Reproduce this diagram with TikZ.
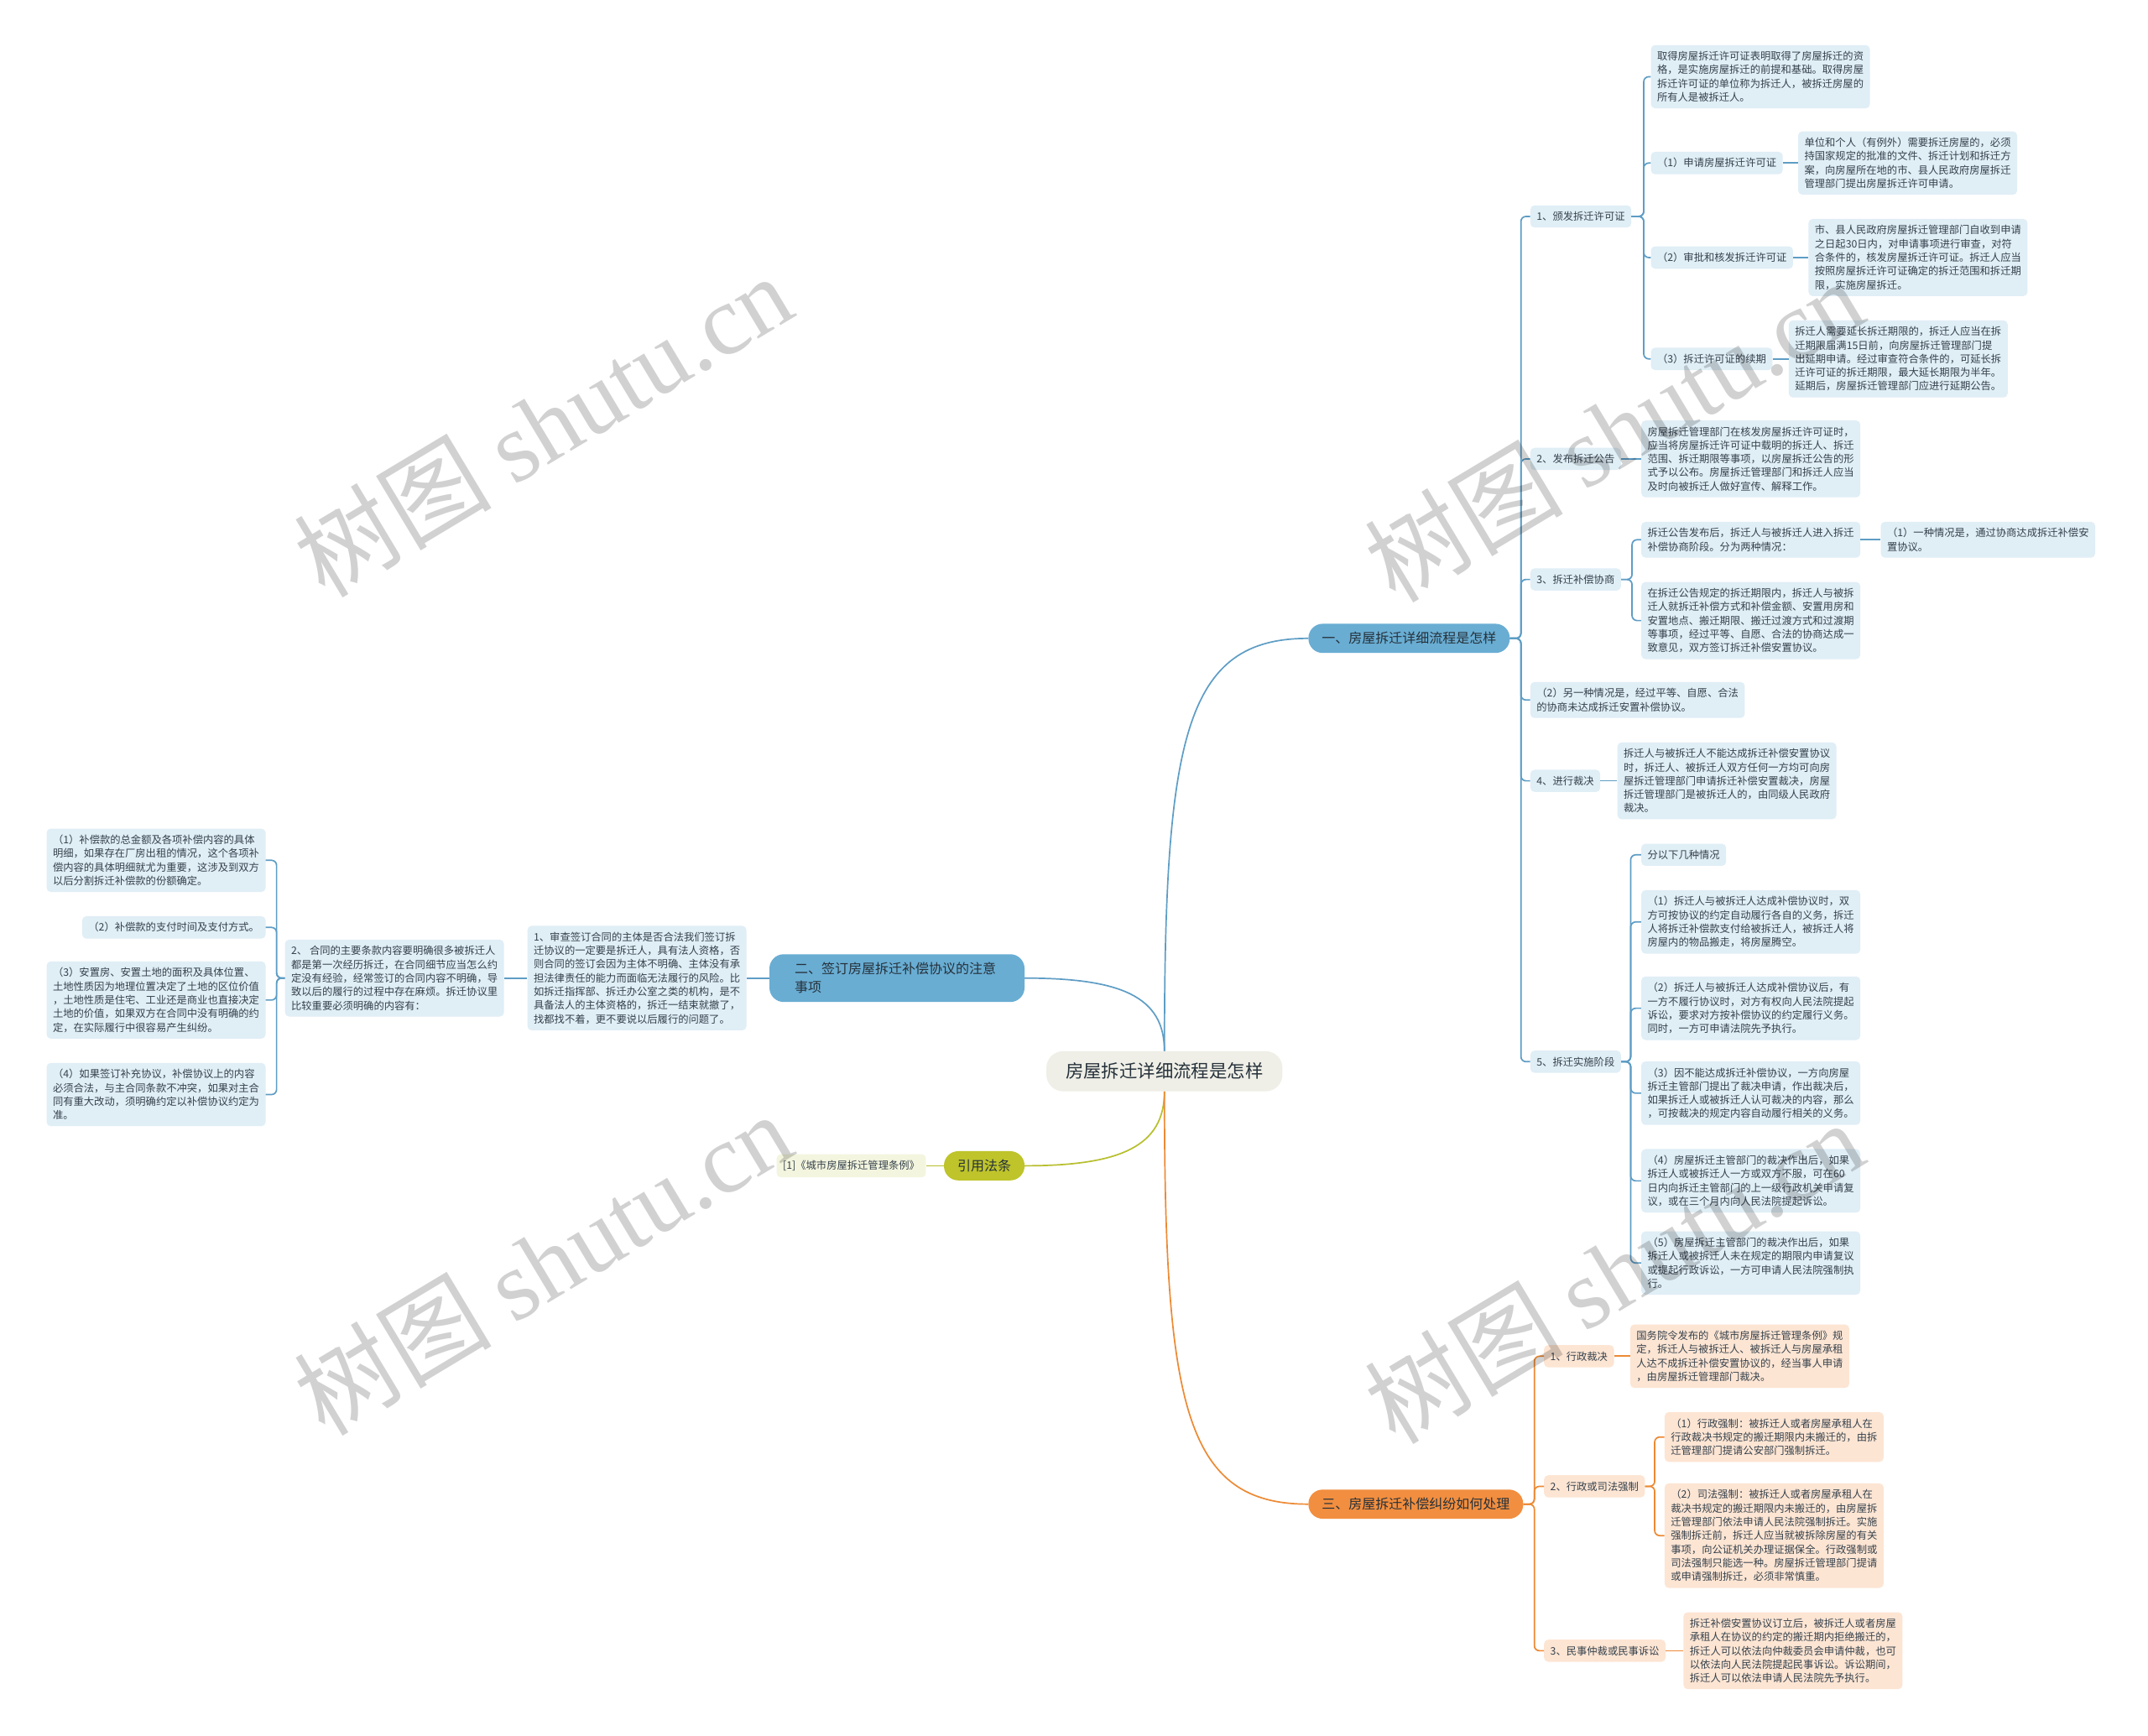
\documentclass[tikz,border=0pt]{standalone}
\usepackage{fontspec}
\setmainfont{Noto Sans CJK SC}
\newfontfamily\wmfont{Liberation Serif}
\usetikzlibrary{positioning}
\definecolor{cBlueLine}{HTML}{5E9DC5}
\definecolor{cBlueMain}{HTML}{69ADD3}
\definecolor{cBlueLeaf}{HTML}{E0EEF6}
\definecolor{cOrgLine}{HTML}{EC8A34}
\definecolor{cOrgMain}{HTML}{F28E3F}
\definecolor{cOrgLeaf}{HTML}{FDE5D3}
\definecolor{cGrnLine}{HTML}{B7BF2C}
\definecolor{cGrnMain}{HTML}{BEC42A}
\definecolor{cGrnLeaf}{HTML}{F3F5DE}
\definecolor{cRoot}{HTML}{EFEFE7}
\definecolor{cText}{HTML}{35414C}
\definecolor{cMainText}{HTML}{26313A}
\tikzset{rootnode/.style={rounded corners=20pt,fill=cRoot,text=cMainText,
		inner xsep=23pt,inner ysep=14pt,font=\fontsize{21.4}{26}\selectfont},
	mainnode/.style={rounded corners=17pt,inner xsep=16pt,inner ysep=10pt,
		align=left,text=cMainText,font=\fontsize{16}{22}\selectfont},
	bmain/.style={mainnode,fill=cBlueMain},
	omain/.style={mainnode,fill=cOrgMain},
	gmain/.style={mainnode,fill=cGrnMain},
	base/.style={rounded corners=5pt,inner xsep=7.5pt,inner ysep=7.5pt,
		align=left,text=cText,font=\fontsize{12.3}{16.3}\selectfont},
	bbox/.style={base,fill=cBlueLeaf},
	obox/.style={base,fill=cOrgLeaf},
	gbox/.style={base,fill=cGrnLeaf},
	blink/.style={draw=cBlueLine,line width=1.7pt,rounded corners=6pt},
	olink/.style={draw=cOrgLine,line width=1.7pt,rounded corners=6pt},
	glink/.style={draw=cGrnLine,line width=1.7pt,rounded corners=6pt},
	elbow/.style={to path={-- ++(#1,0) |- (\tikztotarget)}},
	wm/.style={rotate=31,text=black,text opacity=0.18,font=\fontsize{118}{118}\selectfont}}

\begin{document}
\begin{tikzpicture}[x=1.6327pt,y=-1.6327pt]
\fill[white] (0,0) rectangle (1568,1267);
\useasboundingbox (0,0) rectangle (1568,1267);

\node[rootnode] (root) at (850,782) {房屋拆迁详细流程是怎样};
\node[bmain,anchor=west] (b1) at (955,466) {一、房屋拆迁详细流程是怎样};
\node[bmain,anchor=east,text width=244pt,inner xsep=30pt] (b2) at (748,714) {二、签订房屋拆迁补偿协议的注意\\事项};
\node[gmain,anchor=east] (b4) at (748,851) {引用法条};
\node[omain,anchor=west] (b3) at (955,1098) {三、房屋拆迁补偿纠纷如何处理};

\node[bbox,anchor=west] (s1) at (1117,158) {1、颁发拆迁许可证};
\node[bbox,anchor=west] (s2) at (1117,335) {2、发布拆迁公告};
\node[bbox,anchor=west] (s3) at (1117,423) {3、拆迁补偿协商};
\node[bbox,anchor=west] (s4) at (1117,511) {（2）另一种情况是，经过平等、自愿、合法\\的协商未达成拆迁安置补偿协议。};
\node[bbox,anchor=west] (s5) at (1117,570) {4、进行裁决};
\node[bbox,anchor=west] (s6) at (1117,775) {5、拆迁实施阶段};

\node[bbox,anchor=west] (s1a) at (1205,56) {取得房屋拆迁许可证表明取得了房屋拆迁的资\\格，是实施房屋拆迁的前提和基础。取得房屋\\拆迁许可证的单位称为拆迁人，被拆迁房屋的\\所有人是被拆迁人。};
\node[bbox,anchor=west] (s1b) at (1205,119) {（1）申请房屋拆迁许可证};
\node[bbox,right=18pt of s1b] (s1bx) {单位和个人（有例外）需要拆迁房屋的，必须\\持国家规定的批准的文件、拆迁计划和拆迁方\\案，向房屋所在地的市、县人民政府房屋拆迁\\管理部门提出房屋拆迁许可申请。};
\node[bbox,anchor=west] (s1c) at (1205,188) {（2）审批和核发拆迁许可证};
\node[bbox,right=18pt of s1c] (s1cx) {市、县人民政府房屋拆迁管理部门自收到申请\\之日起30日内，对申请事项进行审查，对符\\合条件的，核发房屋拆迁许可证。拆迁人应当\\按照房屋拆迁许可证确定的拆迁范围和拆迁期\\限，实施房屋拆迁。};
\node[bbox,anchor=west] (s1d) at (1205,262) {（3）拆迁许可证的续期};
\node[bbox,right=19pt of s1d] (s1dx) {拆迁人需要延长拆迁期限的，拆迁人应当在拆\\迁期限届满15日前，向房屋拆迁管理部门提\\出延期申请。经过审查符合条件的，可延长拆\\迁许可证的拆迁期限，最大延长期限为半年。\\延期后，房屋拆迁管理部门应进行延期公告。};

\node[bbox,anchor=west] (s2x) at (1198,335) {房屋拆迁管理部门在核发房屋拆迁许可证时，\\应当将房屋拆迁许可证中载明的拆迁人、拆迁\\范围、拆迁期限等事项，以房屋拆迁公告的形\\式予以公布。房屋拆迁管理部门和拆迁人应当\\及时向被拆迁人做好宣传、解释工作。};
\node[bbox,anchor=west] (s3a) at (1198,394) {拆迁公告发布后，拆迁人与被拆迁人进入拆迁\\补偿协商阶段。分为两种情况：};
\node[bbox,right=24pt of s3a] (s3ax) {（1）一种情况是，通过协商达成拆迁补偿安\\置协议。};
\node[bbox,anchor=west] (s3b) at (1198,453) {在拆迁公告规定的拆迁期限内，拆迁人与被拆\\迁人就拆迁补偿方式和补偿金额、安置用房和\\安置地点、搬迁期限、搬迁过渡方式和过渡期\\等事项，经过平等、自愿、合法的协商达成一\\致意见，双方签订拆迁补偿安置协议。};
\node[bbox,right=20pt of s5] (s5x) {拆迁人与被拆迁人不能达成拆迁补偿安置协议\\时，拆迁人、被拆迁人双方任何一方均可向房\\屋拆迁管理部门申请拆迁补偿安置裁决，房屋\\拆迁管理部门是被拆迁人的，由同级人民政府\\裁决。};

\node[bbox,anchor=west] (s6a) at (1198,624) {分以下几种情况};
\node[bbox,anchor=west] (s6b) at (1198,673) {（1）拆迁人与被拆迁人达成补偿协议时，双\\方可按协议的约定自动履行各自的义务，拆迁\\人将拆迁补偿款支付给被拆迁人，被拆迁人将\\房屋内的物品搬走，将房屋腾空。};
\node[bbox,anchor=west] (s6c) at (1198,736) {（2）拆迁人与被拆迁人达成补偿协议后，有\\一方不履行协议时，对方有权向人民法院提起\\诉讼，要求对方按补偿协议的约定履行义务。\\同时，一方可申请法院先予执行。};
\node[bbox,anchor=west] (s6d) at (1198,798) {（3）因不能达成拆迁补偿协议，一方向房屋\\拆迁主管部门提出了裁决申请，作出裁决后，\\如果拆迁人或被拆迁人认可裁决的内容，那么\\，可按裁决的规定内容自动履行相关的义务。};
\node[bbox,anchor=west] (s6e) at (1198,862) {（4）房屋拆迁主管部门的裁决作出后，如果\\拆迁人或被拆迁人一方或双方不服，可在60\\日内向拆迁主管部门的上一级行政机关申请复\\议，或在三个月内向人民法院提起诉讼。};
\node[bbox,anchor=west] (s6f) at (1198,922) {（5）房屋拆迁主管部门的裁决作出后，如果\\拆迁人或被拆迁人未在规定的期限内申请复议\\或提起行政诉讼，一方可申请人民法院强制执\\行。};

\node[obox,anchor=west] (t1) at (1127,990) {1、行政裁决};
\node[obox,right=19pt of t1] (t1x) {国务院令发布的《城市房屋拆迁管理条例》规\\定，拆迁人与被拆迁人、被拆迁人与房屋承租\\人达不成拆迁补偿安置协议的，经当事人申请\\，由房屋拆迁管理部门裁决。};
\node[obox,anchor=west] (t2) at (1127,1085) {2、行政或司法强制};
\node[obox,anchor=west] (t2a) at (1215,1049) {（1）行政强制：被拆迁人或者房屋承租人在\\行政裁决书规定的搬迁期限内未搬迁的，由拆\\迁管理部门提请公安部门强制拆迁。};
\node[obox,anchor=west] (t2b) at (1215,1121) {（2）司法强制：被拆迁人或者房屋承租人在\\裁决书规定的搬迁期限内未搬迁的，由房屋拆\\迁管理部门依法申请人民法院强制拆迁。实施\\强制拆迁前，拆迁人应当就被拆除房屋的有关\\事项，向公证机关办理证据保全。行政强制或\\司法强制只能选一种。房屋拆迁管理部门提请\\或申请强制拆迁，必须非常慎重。};
\node[obox,anchor=west] (t3) at (1127,1205) {3、民事仲裁或民事诉讼};
\node[obox,right=21pt of t3] (t3x) {拆迁补偿安置协议订立后，被拆迁人或者房屋\\承租人在协议的约定的搬迁期内拒绝搬迁的，\\拆迁人可以依法向仲裁委员会申请仲裁，也可\\以依法向人民法院提起民事诉讼。诉讼期间，\\拆迁人可以依法申请人民法院先予执行。};

\node[bbox,anchor=east] (l1) at (545,714) {1、审查签订合同的主体是否合法我们签订拆\\迁协议的一定要是拆迁人，具有法人资格，否\\则合同的签订会因为主体不明确、主体没有承\\担法律责任的能力而面临无法履行的风险。比\\如拆迁指挥部、拆迁办公室之类的机构，是不\\具备法人的主体资格的，拆迁一结束就撤了，\\找都找不着，更不要说以后履行的问题了。};
\node[bbox,anchor=east] (l2) at (368,714) {2、 合同的主要条款内容要明确很多被拆迁人\\都是第一次经历拆迁，在合同细节应当怎么约\\定没有经验，经常签订的合同内容不明确，导\\致以后的履行的过程中存在麻烦。拆迁协议里\\比较重要必须明确的内容有：};
\node[bbox,anchor=east] (l2a) at (194,628) {（1）补偿款的总金额及各项补偿内容的具体\\明细，如果存在厂房出租的情况，这个各项补\\偿内容的具体明细就尤为重要，这涉及到双方\\以后分割拆迁补偿款的份额确定。};
\node[bbox,anchor=east] (l2b) at (194,677) {（2）补偿款的支付时间及支付方式。};
\node[bbox,anchor=east] (l2c) at (194,730) {（3）安置房、安置土地的面积及具体位置、\\土地性质因为地理位置决定了土地的区位价值\\，土地性质是住宅、工业还是商业也直接决定\\土地的价值，如果双方在合同中没有明确的约\\定，在实际履行中很容易产生纠纷。};
\node[bbox,anchor=east] (l2d) at (194,799) {（4）如果签订补充协议，补偿协议上的内容\\必须合法，与主合同条款不冲突，如果对主合\\同有重大改动，须明确约定以补偿协议约定为\\准。};
\node[gbox,anchor=east] (g1) at (676,851) {[1]《城市房屋拆迁管理条例》};

\draw[blink] (root.north) .. controls +(0,-230) and +(-90,0) .. (b1.west);
\draw[blink] (root.north) .. controls +(0,-40) and +(70,0) .. (b2.east);
\draw[glink] (root.south) .. controls +(0,40) and +(70,0) .. (b4.east);
\draw[olink] (root.south) .. controls +(0,230) and +(-90,0) .. (b3.west);

\foreach \c in {s1,s2,s3,s4,s5,s6}
	\draw[blink] (b1.east) to[elbow=8] (\c.west);
\foreach \c in {s1a,s1b,s1c,s1d}
	\draw[blink] (s1.east) to[elbow=9] (\c.west);
\draw[blink] (s1b.east) -- (s1bx.west);
\draw[blink] (s1c.east) -- (s1cx.west);
\draw[blink] (s1d.east) -- (s1dx.west);
\draw[blink] (s2.east) -- (s2x.west);
\foreach \c in {s3a,s3b}
	\draw[blink] (s3.east) to[elbow=8] (\c.west);
\draw[blink] (s3a.east) -- (s3ax.west);
\draw[blink] (s5.east) -- (s5x.west);
\foreach \c in {s6a,s6b,s6c,s6d,s6e,s6f}
	\draw[blink] (s6.east) to[elbow=7] (\c.west);

\draw[blink] (b2.west) -- (l1.east);
\draw[blink] (l1.west) -- (l2.east);
\foreach \c in {l2a,l2b,l2c,l2d}
	\draw[blink] (l2.west) to[elbow=-6] (\c.east);
\draw[glink] (b4.west) -- (g1.east);

\foreach \c in {t1,t2,t3}
	\draw[olink] (b3.east) to[elbow=8] (\c.west);
\draw[olink] (t1.east) -- (t1x.west);
\foreach \c in {t2a,t2b}
	\draw[olink] (t2.east) to[elbow=7] (\c.west);
\draw[olink] (t3.east) -- (t3x.west);

\node[wm] (wm1) at (396,310) {树图 {\wmfont shutu.cn}};
\node[wm] (wm2) at (1178,314) {树图 {\wmfont shutu.cn}};
\node[wm] (wm3) at (396,922) {树图 {\wmfont shutu.cn}};
\node[wm] (wm4) at (1178,928) {树图 {\wmfont shutu.cn}};
\end{tikzpicture}
\end{document}
